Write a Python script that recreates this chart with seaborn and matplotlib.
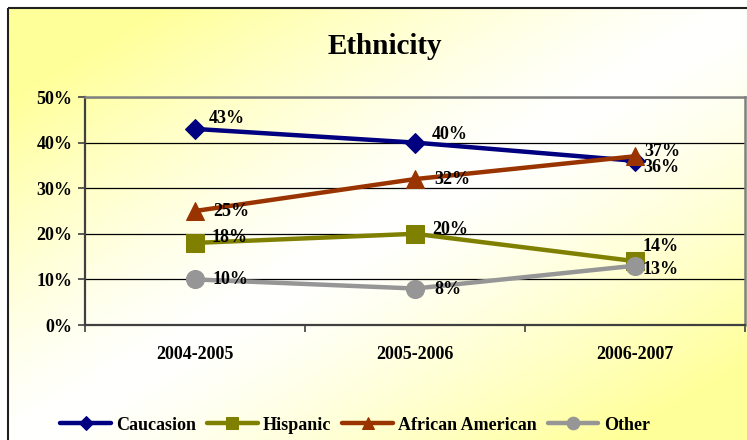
import numpy as np
import pandas as pd
import matplotlib
matplotlib.use("Agg")
import matplotlib.pyplot as plt
from matplotlib.patches import Rectangle
import seaborn as sns

# ---- data ----
years = ["2004-2005", "2005-2006", "2006-2007"]
caucasion = [43, 40, 36]
hispanic = [18, 20, 14]
african_american = [25, 32, 37]
other = [10, 8, 13]
series_names = ["Caucasion", "Hispanic", "African American", "Other"]
y_ticks = [0, 10, 20, 30, 40, 50]

series_values = {
    "Caucasion": caucasion,
    "Hispanic": hispanic,
    "African American": african_american,
    "Other": other,
}

rows = []
for name in series_names:
    for i, (yr, v) in enumerate(zip(years, series_values[name])):
        rows.append({"Year": yr, "idx": i, "Ethnicity": name, "Value": v})
df = pd.DataFrame(rows)

# ---- styles ----
colors = {"Caucasion": "#000080", "Hispanic": "#808000",
          "African American": "#993300", "Other": "#969696"}
markers = {"Caucasion": "D", "Hispanic": "s", "African American": "^", "Other": "o"}
msizes = {"Caucasion": 10, "Hispanic": 12.5, "African American": 13, "Other": 13}
# label offsets in pixels (dx to text left edge, dy downward)
label_offsets = {
    "Caucasion": [(14, -10), (17, -8), (8, 7)],
    "African American": [(18, 0), (19, 0), (9, -5)],
    "Hispanic": [(17, -5), (17, -4), (8, -15)],
    "Other": [(18, 0), (19, 1), (8, 4)],
}

sns.set_theme(style="white")
plt.rcParams["font.family"] = ["Liberation Serif", "DejaVu Serif"]
plt.rcParams["font.weight"] = "bold"
plt.rcParams["text.color"] = "black"
plt.rcParams["xtick.color"] = "black"
plt.rcParams["ytick.color"] = "black"

W, H = 747, 440
fig = plt.figure(figsize=(W / 100, H / 100), dpi=100)
fig.patch.set_facecolor("white")

# background gradient
bg = fig.add_axes([0, 0, 1, 1], zorder=-10)
bg.set_xlim(0, W)
bg.set_ylim(H, 0)
bg.axis("off")
gx = np.linspace(0, 1, 300)
gy = np.linspace(0, 1, 200)
GX, GY = np.meshgrid(gx, gy)
t = (GX + GY) / 2.0
w = np.clip(np.abs(2 * t - 1) * 1.25, 0, 1) ** 1.3
yellow = np.array([1.0, 1.0, 0.60])
white = np.array([1.0, 1.0, 1.0])
img = white[None, None, :] * (1 - w[..., None]) + yellow[None, None, :] * w[..., None]
bg.imshow(img, extent=[8, W + 10, H + 10, 8], aspect="auto", zorder=0)
bg.add_patch(Rectangle((8, 8), W + 20, H + 20, fill=False, edgecolor="#202020",
                       linewidth=1.5, zorder=1))

ax = fig.add_axes([85 / W, 1 - 325 / H, 660 / W, 228 / H])
ax.set_facecolor("none")

for name in series_names:
    sub = df[df["Ethnicity"] == name]
    sns.lineplot(data=sub, x="idx", y="Value", ax=ax, color=colors[name],
                 marker=markers[name], markersize=msizes[name],
                 markeredgecolor=colors[name], linewidth=3.2, label=name,
                 zorder=3)
    for i, v in enumerate(series_values[name]):
        dx, dy = label_offsets[name][i]
        ax.annotate(f"{v}%", xy=(i, v), xytext=(dx * 0.72, -dy * 0.72),
                    textcoords="offset points", ha="left", va="center",
                    fontsize=13, fontweight="bold", color="black", zorder=5)

ax.set_xlim(-0.5, 2.5)
ax.set_ylim(0, 50)
ax.set_xticks(range(len(years)))
ax.set_xticklabels(years, fontsize=13, fontweight="bold", color="black")
ax.set_xticks([-0.5, 0.5, 1.5, 2.5], minor=True)
ax.tick_params(axis="x", which="major", length=0, pad=15)
ax.tick_params(axis="x", which="minor", length=5, width=1.2, color="#404040",
               direction="out", bottom=True)
ax.set_yticks(y_ticks)
ax.set_yticklabels([f"{v}%" for v in y_ticks], fontsize=13, fontweight="bold",
                   color="black")
ax.tick_params(axis="y", length=5, width=1.2, color="#404040", direction="out",
               left=True, pad=4)
ax.set_xlabel("")
ax.set_ylabel("")
ax.grid(axis="y", color="black", linewidth=0.9)
ax.grid(axis="x", visible=False)
ax.set_axisbelow(True)
for s in ["left", "bottom"]:
    ax.spines[s].set_color("#404040")
    ax.spines[s].set_linewidth(1.6)
for s in ["top", "right"]:
    ax.spines[s].set_color("#808080")
    ax.spines[s].set_linewidth(1.8)
    ax.spines[s].set_visible(True)

if ax.legend_ is not None:
    ax.legend_.remove()
handles, labels = ax.get_legend_handles_labels()
leg = fig.legend(handles, labels, loc="center", bbox_to_anchor=(355 / W, 1 - 425 / H),
                 ncol=4, frameon=False, prop={"weight": "bold", "size": 13},
                 handlelength=2.8, handletextpad=0.3, columnspacing=0.6,
                 markerscale=0.7)
for txt in leg.get_texts():
    txt.set_color("black")

fig.text(385 / W, 1 - 46 / H, "Ethnicity", ha="center", va="center",
         fontsize=21, fontweight="bold", color="black")

fig.savefig("out.png", dpi=100)
